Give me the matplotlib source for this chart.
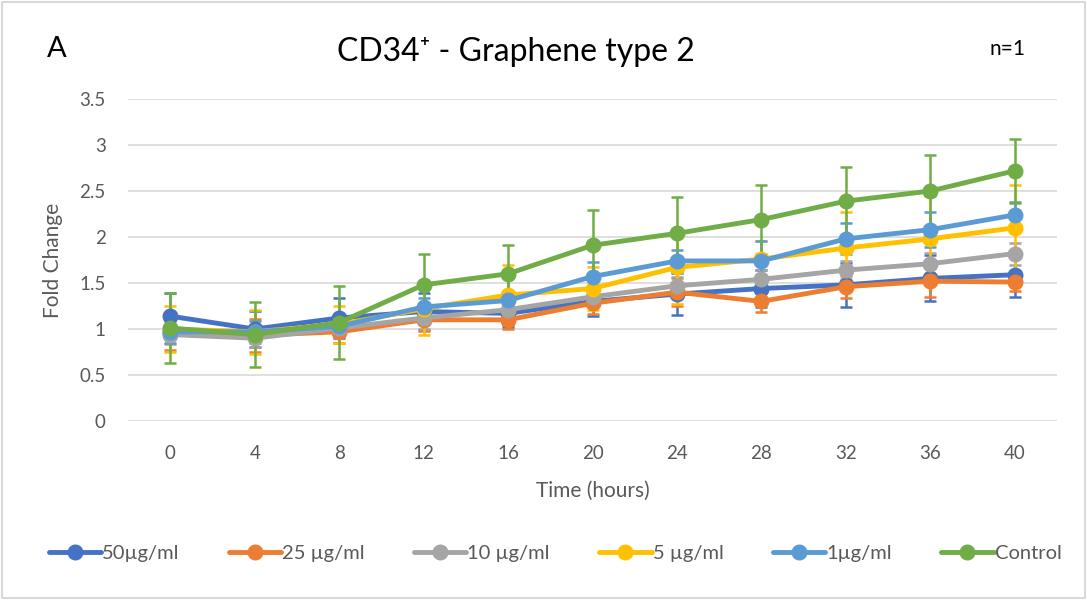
import matplotlib.pyplot as plt
import numpy as np

# Time points (hours) and fold change per treatment
hours = [0, 4, 8, 12, 16, 20, 24, 28, 32, 36, 40]

labels = ["50µg/ml", "25 µg/ml", "10 µg/ml", "5 µg/ml", "1µg/ml", "Control"]
colors = ["#4472C4", "#ED7D31", "#A5A5A5", "#FFC000", "#5B9BD5", "#70AD47"]

fc_50 = [1.14, 1.00, 1.12, 1.19, 1.17, 1.30, 1.38, 1.44, 1.48, 1.55, 1.59]
fc_25 = [0.97, 0.93, 0.97, 1.10, 1.10, 1.28, 1.40, 1.30, 1.46, 1.52, 1.51]
fc_10 = [0.94, 0.90, 1.01, 1.12, 1.21, 1.35, 1.47, 1.54, 1.64, 1.71, 1.82]
fc_5 = [1.00, 0.97, 1.05, 1.22, 1.37, 1.44, 1.67, 1.76, 1.88, 1.98, 2.10]
fc_1 = [0.97, 0.97, 1.03, 1.24, 1.31, 1.57, 1.74, 1.74, 1.98, 2.08, 2.24]
fc_ctrl = [1.01, 0.94, 1.07, 1.48, 1.60, 1.91, 2.04, 2.19, 2.39, 2.50, 2.72]

err_50 = [0.25, 0.20, 0.22, 0.20, 0.15, 0.16, 0.23, 0.20, 0.24, 0.25, 0.24]
err_25 = [0.20, 0.18, 0.12, 0.12, 0.10, 0.12, 0.15, 0.11, 0.12, 0.17, 0.10]
err_10 = [0.10, 0.10, 0.10, 0.12, 0.10, 0.10, 0.10, 0.10, 0.10, 0.12, 0.12]
err_5 = [0.25, 0.24, 0.20, 0.28, 0.33, 0.23, 0.40, 0.20, 0.39, 0.47, 0.47]
err_1 = [0.12, 0.12, 0.12, 0.10, 0.27, 0.16, 0.12, 0.22, 0.17, 0.19, 0.14]
err_ctrl = [0.38, 0.35, 0.40, 0.34, 0.31, 0.38, 0.40, 0.37, 0.37, 0.39, 0.35]

means = [fc_50, fc_25, fc_10, fc_5, fc_1, fc_ctrl]
errs = [err_50, err_25, err_10, err_5, err_1, err_ctrl]

plt.rcParams['font.family'] = ['Lato', 'DejaVu Sans']
text_col = "#595959"

fig = plt.figure(figsize=(10.87, 6.0), dpi=100)
ax = fig.add_axes([0.1178, 0.2983, 0.8546, 0.5367])

x = np.arange(len(hours))

# error bars sit underneath all the lines
for m, e, c in zip(means, errs, colors):
    ax.errorbar(x, m, yerr=e, fmt="none", ecolor=c, elinewidth=1.8,
                capsize=4.5, capthick=1.8, zorder=2)

for i, (m, c, lab) in enumerate(zip(means, colors, labels)):
    ax.plot(x, m, color=c, lw=3.5, marker="o", markersize=10.5,
            label=lab, zorder=3 + i, solid_capstyle="round")

ax.set_xlim(-0.5, len(hours) - 0.5)
ax.set_ylim(0, 3.5)
ax.set_yticks(np.arange(0, 3.51, 0.5))
ax.set_yticklabels(["0", "0.5", "1", "1.5", "2", "2.5", "3", "3.5"])
ax.set_xticks(x)
ax.set_xticklabels([str(h) for h in hours])
ax.tick_params(length=0, labelsize=13.5, colors=text_col)
ax.tick_params(axis="y", pad=16)
ax.tick_params(axis="x", pad=17)
ax.grid(axis="y", color="#D9D9D9", lw=1.2)
ax.set_axisbelow(True)
for s in ax.spines.values():
    s.set_visible(False)

ax.set_xlabel("Time (hours)", fontsize=15, color=text_col, labelpad=14)
ax.set_ylabel("Fold Change", fontsize=15, color=text_col, labelpad=12)

fig.text(0.475, 0.913, "CD34\u207a - Graphene type 2", ha="center", va="center",
         fontsize=23, color="black")
fig.text(0.043, 0.918, "A", ha="left", va="center", fontsize=21, color="black")
fig.text(0.927, 0.918, "n=1", ha="center", va="center", fontsize=15, color="black")

leg = fig.legend(loc="center", bbox_to_anchor=(0.5106, 0.078), ncol=6, frameon=False,
                 fontsize=14.5, handlelength=2.6, columnspacing=2.45, handletextpad=0.05,
                 labelcolor=text_col)

# light border around the chart area
fig.patches.append(plt.Rectangle((0.002, 0.003), 0.996, 0.994, transform=fig.transFigure,
                                 fill=False, edgecolor="#D9D9D9", lw=1.5))

fig.savefig("out.png", dpi=100)
